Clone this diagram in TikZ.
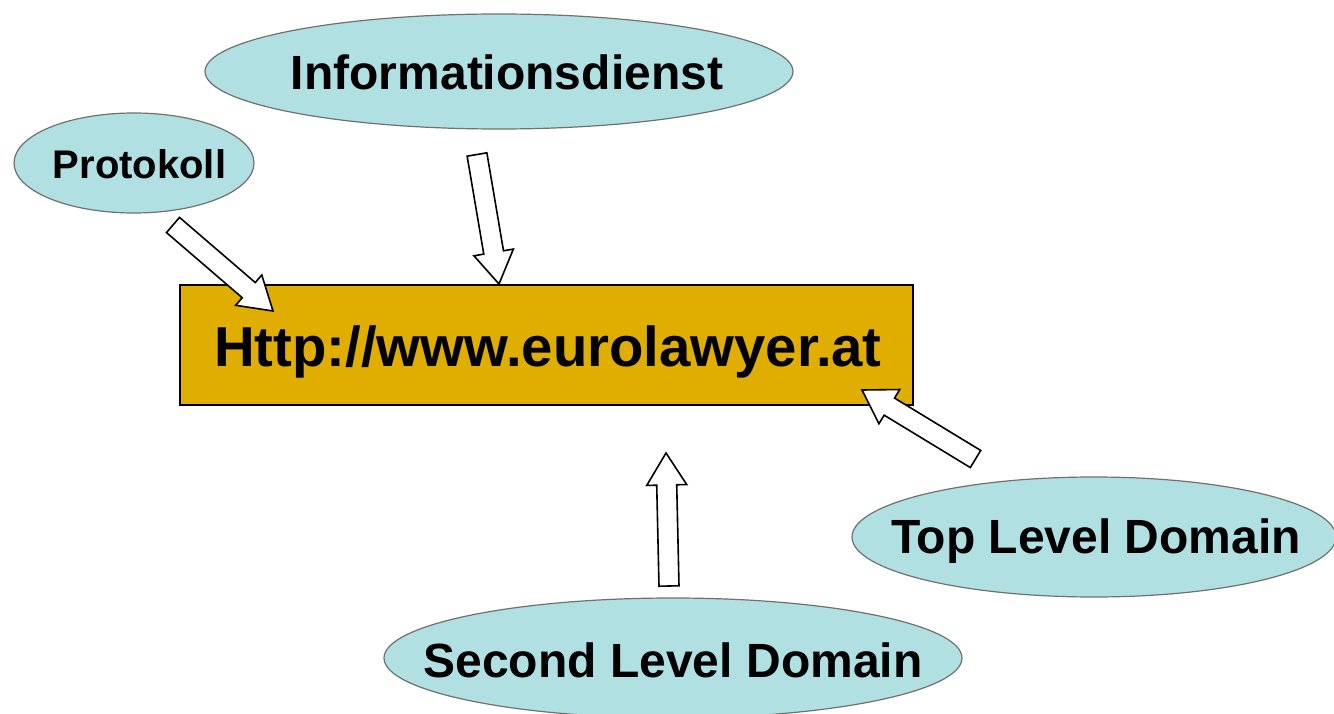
\documentclass[tikz,border=0pt]{standalone}
\usepackage{fontspec}
\setmainfont{Liberation Sans}
\usetikzlibrary{shapes.geometric,calc}
\definecolor{bubble}{HTML}{B0E0E2}
\definecolor{bubbleline}{HTML}{707070}
\definecolor{gold}{HTML}{E0AE00}
\tikzset{
  bubble/.style={ellipse, draw=bubbleline, line width=1.2pt, fill=bubble, inner sep=0pt},
  bubbletext/.style={inner sep=0pt, font=\bfseries\fontsize{48}{52}\selectfont},
  urlbox/.style={rectangle, draw=black, line width=1.3pt, fill=gold, inner sep=0pt},
  barrow/.style={draw=black, fill=white, line width=1.6pt, line join=miter}
}
\newcommand{\blockarr}[2]{%
  \coordinate (h) at ($(#2)!32pt!(#1)$);
  \draw[barrow] ($(#1)!10pt!90:(#2)$) -- ($(h)!10pt!-90:(#1)$) -- ($(h)!20pt!-90:(#1)$) -- (#2)
    -- ($(h)!20pt!90:(#1)$) -- ($(h)!10pt!90:(#1)$) -- ($(#1)!10pt!-90:(#2)$) -- cycle;}
\begin{document}
\begin{tikzpicture}[x=1pt,y=-1pt]
\useasboundingbox (0,0) rectangle (1334,714);
\node[urlbox, minimum width=733pt, minimum height=120pt] (url) at (546.5,345) {};
\node[inner sep=0pt, font=\bfseries\fontsize{56.3}{60}\selectfont] (urltext) at (548,352) {Http://www.eurolawyer.at};
\node[bubble, minimum width=588pt, minimum height=115pt] (info) at (499,71.5) {};
\node[bubbletext] (infotext) at (507,72) {Informationsdienst};
\node[bubble, minimum width=240pt, minimum height=100pt] (proto) at (134,163) {};
\node[bubbletext, font=\bfseries\fontsize{40}{44}\selectfont] (prototext) at (139.5,164) {Protokoll};
\node[bubble, minimum width=484pt, minimum height=120pt] (tld) at (1094,537) {};
\node[bubbletext] (tldtext) at (1096,541) {Top Level Domain};
\node[bubble, minimum width=578pt, minimum height=120pt] (sld) at (673,658) {};
\node[bubbletext] (sldtext) at (673,660) {Second Level Domain};
\coordinate (p1) at (173,225); \coordinate (p2) at (273,311);
\coordinate (i1) at (477,154.5); \coordinate (i2) at (499,284);
\coordinate (t1) at (975.5,459); \coordinate (t2) at (862,390);
\coordinate (s1) at (669,586); \coordinate (s2) at (666,453);
\blockarr{p1}{p2}
\blockarr{i1}{i2}
\blockarr{t1}{t2}
\blockarr{s1}{s2}
\end{tikzpicture}
\end{document}
